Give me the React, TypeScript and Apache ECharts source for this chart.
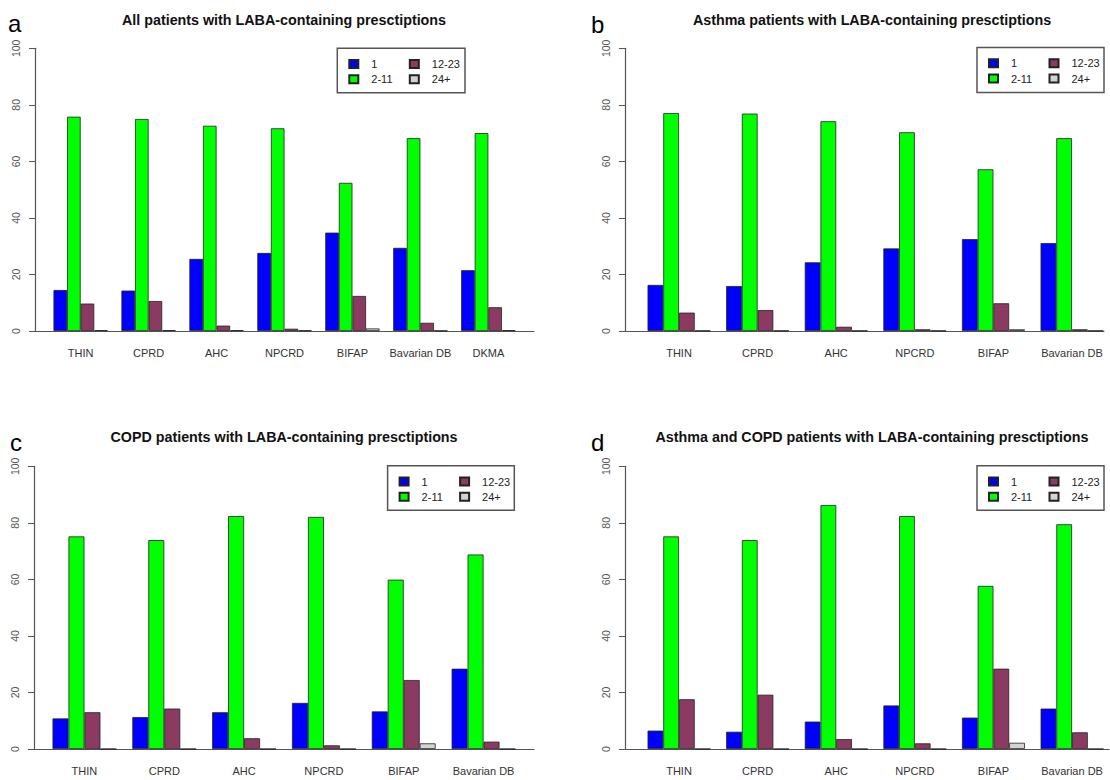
import React, { useEffect, useRef } from 'react';
import * as echarts from 'echarts';

// ---------- data ----------
const seriesNames = ['1', '2-11', '12-23', '24+'];
const seriesColors = ['#0000FF', '#00FF00', '#8B3A62', '#D3D3D3'];

const categoriesA = ['THIN', 'CPRD', 'AHC', 'NPCRD', 'BIFAP', 'Bavarian DB', 'DKMA'];
const categoriesBCD = ['THIN', 'CPRD', 'AHC', 'NPCRD', 'BIFAP', 'Bavarian DB'];

// a: All patients
const allPatients1 = [14.5, 14.3, 25.5, 27.6, 34.8, 29.4, 21.5];
const allPatients2to11 = [75.8, 75.0, 72.6, 71.7, 52.4, 68.2, 70.0];
const allPatients12to23 = [9.7, 10.6, 1.9, 0.8, 12.4, 2.9, 8.4];
const allPatients24plus = [0.3, 0.3, 0.3, 0.2, 0.9, 0.1, 0.3];

// b: Asthma patients
const asthma1 = [16.3, 15.9, 24.3, 29.2, 32.5, 31.1];
const asthma2to11 = [77.1, 76.9, 74.2, 70.3, 57.2, 68.2];
const asthma12to23 = [6.5, 7.4, 1.5, 0.6, 9.8, 0.6];
const asthma24plus = [0.1, 0.1, 0.1, 0.1, 0.6, 0.1];

// c: COPD patients
const copd1 = [10.8, 11.3, 13.0, 16.3, 13.3, 28.4];
const copd2to11 = [75.2, 73.9, 82.4, 82.1, 59.9, 68.8];
const copd12to23 = [13.0, 14.3, 3.8, 1.3, 24.4, 2.6];
const copd24plus = [0, 0, 0, 0, 2.0, 0];

// d: Asthma and COPD patients
const both1 = [6.5, 6.1, 9.7, 15.4, 11.1, 14.3];
const both2to11 = [75.2, 73.9, 86.3, 82.4, 57.7, 79.5];
const both12to23 = [17.6, 19.2, 3.5, 2.0, 28.4, 5.9];
const both24plus = [0, 0, 0, 0, 2.2, 0];

const yTicks = [0, 20, 40, 60, 80, 100];

const panelTitles = [
  'All patients with LABA-containing presctiptions',
  'Asthma patients with LABA-containing presctiptions',
  'COPD patients with LABA-containing presctiptions',
  'Asthma and COPD patients with LABA-containing presctiptions',
];
const panelLetters = ['a', 'b', 'c', 'd'];

// ---------- layout (pixels) ----------
const FONT = '"Liberation Sans", Arial, Helvetica, sans-serif';
const PLOT_H = 282.7;
const panels = [
  { cats: categoriesA, values: [allPatients1, allPatients2to11, allPatients12to23, allPatients24plus],
    x0: 35, x1: 534, top: 48.3, min: -0.672, max: 6.672,
    titleX: 284, titleY: 12.5, letterX: 8, letterY: 11,
    box: { x: 337.3, y: 48.3, w: 127.7, h: 44.4 } },
  { cats: categoriesBCD, values: [asthma1, asthma2to11, asthma12to23, asthma24plus],
    x0: 625, x1: 1104, top: 48.3, min: -0.687, max: 5.407,
    titleX: 872, titleY: 12.5, letterX: 591, letterY: 12,
    box: { x: 977, y: 47.5, w: 127, h: 45 } },
  { cats: categoriesBCD, values: [copd1, copd2to11, copd12to23, copd24plus],
    x0: 34, x1: 534, top: 466.3, min: -0.632, max: 5.632,
    titleX: 284, titleY: 429.5, letterX: 10, letterY: 430,
    box: { x: 387.6, y: 465.8, w: 126.7, h: 44.4 } },
  { cats: categoriesBCD, values: [both1, both2to11, both12to23, both24plus],
    x0: 625, x1: 1109, top: 466.3, min: -0.687, max: 5.47,
    titleX: 872, titleY: 429.5, letterX: 591, letterY: 430,
    box: { x: 977, y: 465.8, w: 127, h: 44.4 } },
];

function buildOption() {
  const grid: any[] = [];
  const xAxis: any[] = [];
  const yAxis: any[] = [];
  const series: any[] = [];
  const legend: any[] = [];
  const title: any[] = [];
  const graphic: any[] = [];

  panels.forEach((p, pi) => {
    grid.push({ left: p.x0, width: p.x1 - p.x0, top: p.top, height: PLOT_H, containLabel: false });
    xAxis.push({
      type: 'value', gridIndex: pi, min: p.min, max: p.max,
      axisLine: { show: true, onZero: false, lineStyle: { color: '#555', width: 1.2 } },
      axisTick: { show: false },
      splitLine: { show: false },
      axisLabel: {
        customValues: p.cats.map((_, i) => i),
        formatter: (v: number) => p.cats[Math.round(v)] ?? '',
        fontSize: 11, color: '#333', margin: 16, fontFamily: FONT,
      },
    });
    yAxis.push({
      type: 'value', gridIndex: pi, min: 0, max: 100, interval: 20,
      axisLine: { show: true, onZero: false, lineStyle: { color: '#555', width: 1.2 } },
      axisTick: { show: true, length: 6, lineStyle: { color: '#555', width: 1 } },
      splitLine: { show: false },
      axisLabel: {
        rotate: 90, fontSize: 10.5, color: '#555', margin: 14, fontFamily: FONT,
        customValues: yTicks,
      },
    });
    p.values.forEach((vals, k) => {
      series.push({
        type: 'bar', name: seriesNames[k], xAxisIndex: pi, yAxisIndex: pi,
        data: vals.map((v, i) => [i, v]),
        barGap: '0%', barCategoryGap: '20%',
        itemStyle: { color: seriesColors[k], borderColor: '#222', borderWidth: 0.8 },
        emphasis: { disabled: true },
      });
    });
    const legendCommon = {
      orient: 'vertical', top: p.box.y + 8.7, itemWidth: 9, itemHeight: 8, itemGap: 1.3,
      padding: 0, selectedMode: false, icon: 'rect',
      textStyle: { fontSize: 11, color: '#222', lineHeight: 14, padding: [0, 0, 0, 8], fontFamily: FONT },
    };
    legend.push({ ...legendCommon, data: ['1', '2-11'], left: p.box.x + 11 });
    legend.push({ ...legendCommon, data: ['12-23', '24+'], left: p.box.x + 71.5 });
    graphic.push({
      type: 'rect', shape: { x: p.box.x, y: p.box.y, width: p.box.w, height: p.box.h },
      style: { fill: 'none', stroke: '#555', lineWidth: 1.5 },
    });
    title.push({
      text: panelTitles[pi], left: p.titleX, top: p.titleY, textAlign: 'center', padding: 0,
      textStyle: { fontSize: 14.3, fontWeight: 'bold', color: '#111', fontFamily: FONT },
    });
    title.push({
      text: panelLetters[pi], left: p.letterX, top: p.letterY, padding: 0,
      textStyle: { fontSize: 24, fontWeight: 'normal', color: '#000', fontFamily: FONT },
    });
  });

  return {
    animation: false,
    backgroundColor: '#ffffff',
    title, grid, xAxis, yAxis, series, legend, graphic,
  };
}

export default function App() {
  const ref = useRef<HTMLDivElement>(null);
  useEffect(() => {
    if (!ref.current) return;
    const chart = echarts.init(ref.current, undefined, { renderer: 'svg' });
    chart.setOption(buildOption());
    return () => chart.dispose();
  }, []);
  return (
    <div
      ref={ref}
      style={{ position: 'fixed', left: 0, top: 0, width: 1110, height: 780, background: '#fff' }}
    />
  );
}
